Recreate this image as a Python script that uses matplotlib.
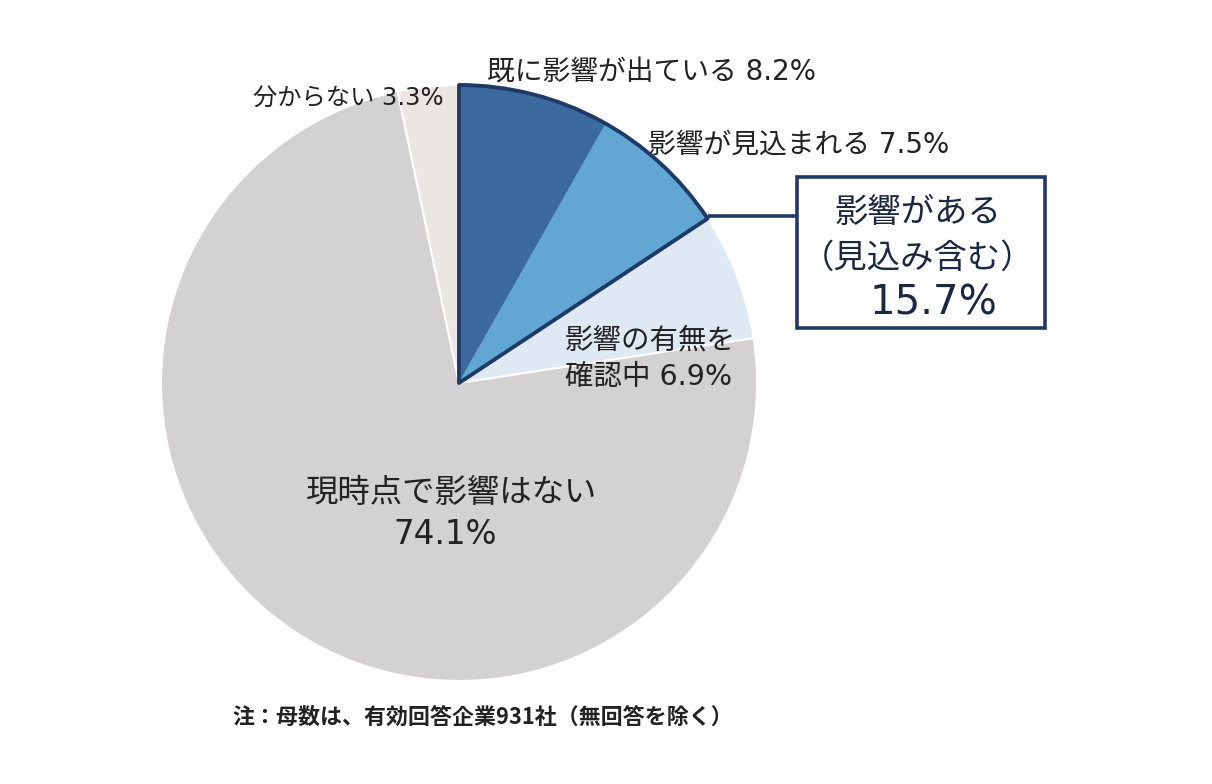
import matplotlib
matplotlib.use("Agg")
import matplotlib.pyplot as plt
from matplotlib.patches import Wedge, Rectangle
import numpy as np

# DejaVu first for its wider digits, Noto CJK for the Japanese glyphs
plt.rcParams['font.family'] = ['DejaVu Sans', 'Noto Sans CJK JP']
cjk_only = ['Noto Sans CJK JP', 'DejaVu Sans']  # for full-width punctuation

# data
labels = ["既に影響が出ている", "影響が見込まれる", "影響の有無を\n確認中", "現時点で影響はない", "分からない"]
shares = [8.2, 7.5, 6.9, 74.1, 3.3]
colors = ["#3c6a9e", "#62a7d4", "#dfe9f4", "#d3d1d1", "#e9e6e3"]
group_title = "影響がある"
group_sub = "（見込み含む）"
group_share = 15.7
note = "注：母数は、有効回答企業931社（無回答を除く）"

W, H = 1212, 784
fig = plt.figure(figsize=(W / 100, H / 100), dpi=100)
ax = fig.add_axes([0, 0, 1, 1])

cx, cy, r = 459, 383, 298
navy = "#1f3a66"
txt = "#222222"

# y is flipped below, so counterclock=True with start -90 runs clockwise from the top
wedges, _ = ax.pie(shares, colors=colors, startangle=-90, counterclock=True,
                   center=(cx, cy), radius=r, frame=True,
                   wedgeprops=dict(edgecolor="white", linewidth=1.5))
# no white seam between the two blue slices
for w, c in zip(wedges[:2], colors[:2]):
    w.set_edgecolor(c)
    w.set_linewidth(0.5)
ax.set_xlim(0, W)
ax.set_ylim(H, 0)  # pixel-like coords, y down
ax.set_aspect("equal")
ax.axis("off")

# outline around the two "impact" slices
end_ang = -90 + group_share * 3.6
ax.add_patch(Wedge((cx, cy), r, -90, end_ang, fill=False, edgecolor=navy,
                   linewidth=2.8, joinstyle="round", zorder=5))

# connector + box
ex = cx + r * np.cos(np.radians(end_ang))
ey = cy + r * np.sin(np.radians(end_ang))
bx0, by0, bw, bh = 797, 177, 248, 151
ax.plot([ex, bx0], [ey - 3, ey - 3], color=navy, lw=2.6, solid_capstyle="butt", zorder=5)
ax.add_patch(Rectangle((bx0, by0), bw, bh, facecolor="white", edgecolor=navy,
                       linewidth=2.6, zorder=6))
ax.text(918, 212, group_title, fontsize=24, color="#1c2740", ha="center", va="center", zorder=7)
ax.text(918, 258, group_sub, fontsize=24, color="#1c2740", ha="center", va="center", zorder=7,
        family=cjk_only)
ax.text(933, 303, f"{group_share}%", fontsize=29, color="#1c2740", ha="center", va="center", zorder=7)

# slice labels
ax.text(487, 73, f"{labels[0]} {shares[0]}%", fontsize=20, color=txt, ha="left", va="center")
ax.text(648, 145, f"{labels[1]} {shares[1]}%", fontsize=20, color=txt, ha="left", va="center")
ax.text(565, 359, f"{labels[2]} {shares[2]}%", fontsize=20.5, color=txt, ha="left", va="center",
        linespacing=1.4)
ax.text(452, 493, labels[3], fontsize=23.3, color=txt, ha="center", va="center")
ax.text(445, 535, f"{shares[3]}%", fontsize=23.5, color=txt, ha="center", va="center")
ax.text(253, 98, f"{labels[4]} {shares[4]}%", fontsize=17.5, color=txt, ha="left", va="center")

ax.text(232, 717, note, fontsize=15.8, fontweight="bold", color=txt, ha="left", va="center",
        family=cjk_only)

fig.savefig("out.png", dpi=100, facecolor="white")
